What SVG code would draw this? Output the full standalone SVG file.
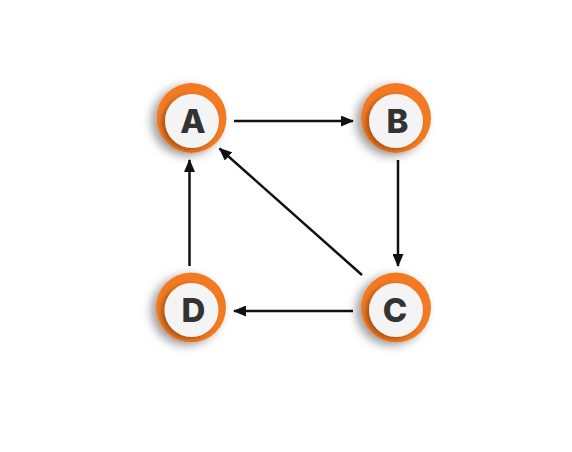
<svg xmlns="http://www.w3.org/2000/svg" width="572" height="452" viewBox="0 0 572 452">
  <defs>
    <filter id="ringShadow" x="-50%" y="-50%" width="200%" height="200%">
      <feDropShadow dx="-5" dy="3" stdDeviation="5" flood-color="#000" flood-opacity="0.38"/>
    </filter>
    <filter id="faceShadow" x="-50%" y="-50%" width="200%" height="200%">
      <feDropShadow dx="-3" dy="2" stdDeviation="2.5" flood-color="#000" flood-opacity="0.35"/>
    </filter>
    <marker id="arrow" viewBox="0 0 13 11" refX="12" refY="5.5" markerWidth="13" markerHeight="11" markerUnits="userSpaceOnUse" orient="auto">
      <path d="M0,0 L13,5.5 L0,11 Z" fill="#111"/>
    </marker>
  </defs>
  <style>
    .ring { fill: #F37A24; filter: url(#ringShadow); }
    .face { fill: #F4F4F4; filter: url(#faceShadow); }
    .label { font-family: Inter, "Liberation Sans", sans-serif; font-weight: 800; font-size: 33px; fill: #333; text-anchor: middle; }
    .edge { stroke: #111; stroke-width: 2.5; fill: none; marker-end: url(#arrow); }
  </style>
  <rect width="572" height="452" fill="#fff"/>

  <g id="connectors">
    <line class="edge" x1="234" y1="121" x2="353" y2="121"/>
    <line class="edge" x1="398" y1="160" x2="398" y2="266"/>
    <line class="edge" x1="353" y1="311" x2="234" y2="311"/>
    <line class="edge" x1="189.5" y1="266" x2="189.5" y2="160"/>
    <line class="edge" x1="362" y1="275" x2="219.5" y2="148.5"/>
  </g>

  <g id="node-A">
    <circle class="ring" cx="191.5" cy="118" r="35"/>
    <circle class="face" cx="192" cy="121" r="27"/>
    <text class="label" x="193" y="133">A</text>
  </g>
  <g id="node-B">
    <circle class="ring" cx="396" cy="118" r="35"/>
    <circle class="face" cx="396" cy="121" r="27"/>
    <text class="label" x="397.5" y="133">B</text>
  </g>
  <g id="node-C">
    <circle class="ring" cx="396" cy="307.5" r="35"/>
    <circle class="face" cx="396" cy="310" r="27"/>
    <text class="label" x="395" y="322">C</text>
  </g>
  <g id="node-D">
    <circle class="ring" cx="191" cy="307.5" r="35"/>
    <circle class="face" cx="191.5" cy="310" r="27"/>
    <text class="label" x="193.5" y="322">D</text>
  </g>
</svg>
